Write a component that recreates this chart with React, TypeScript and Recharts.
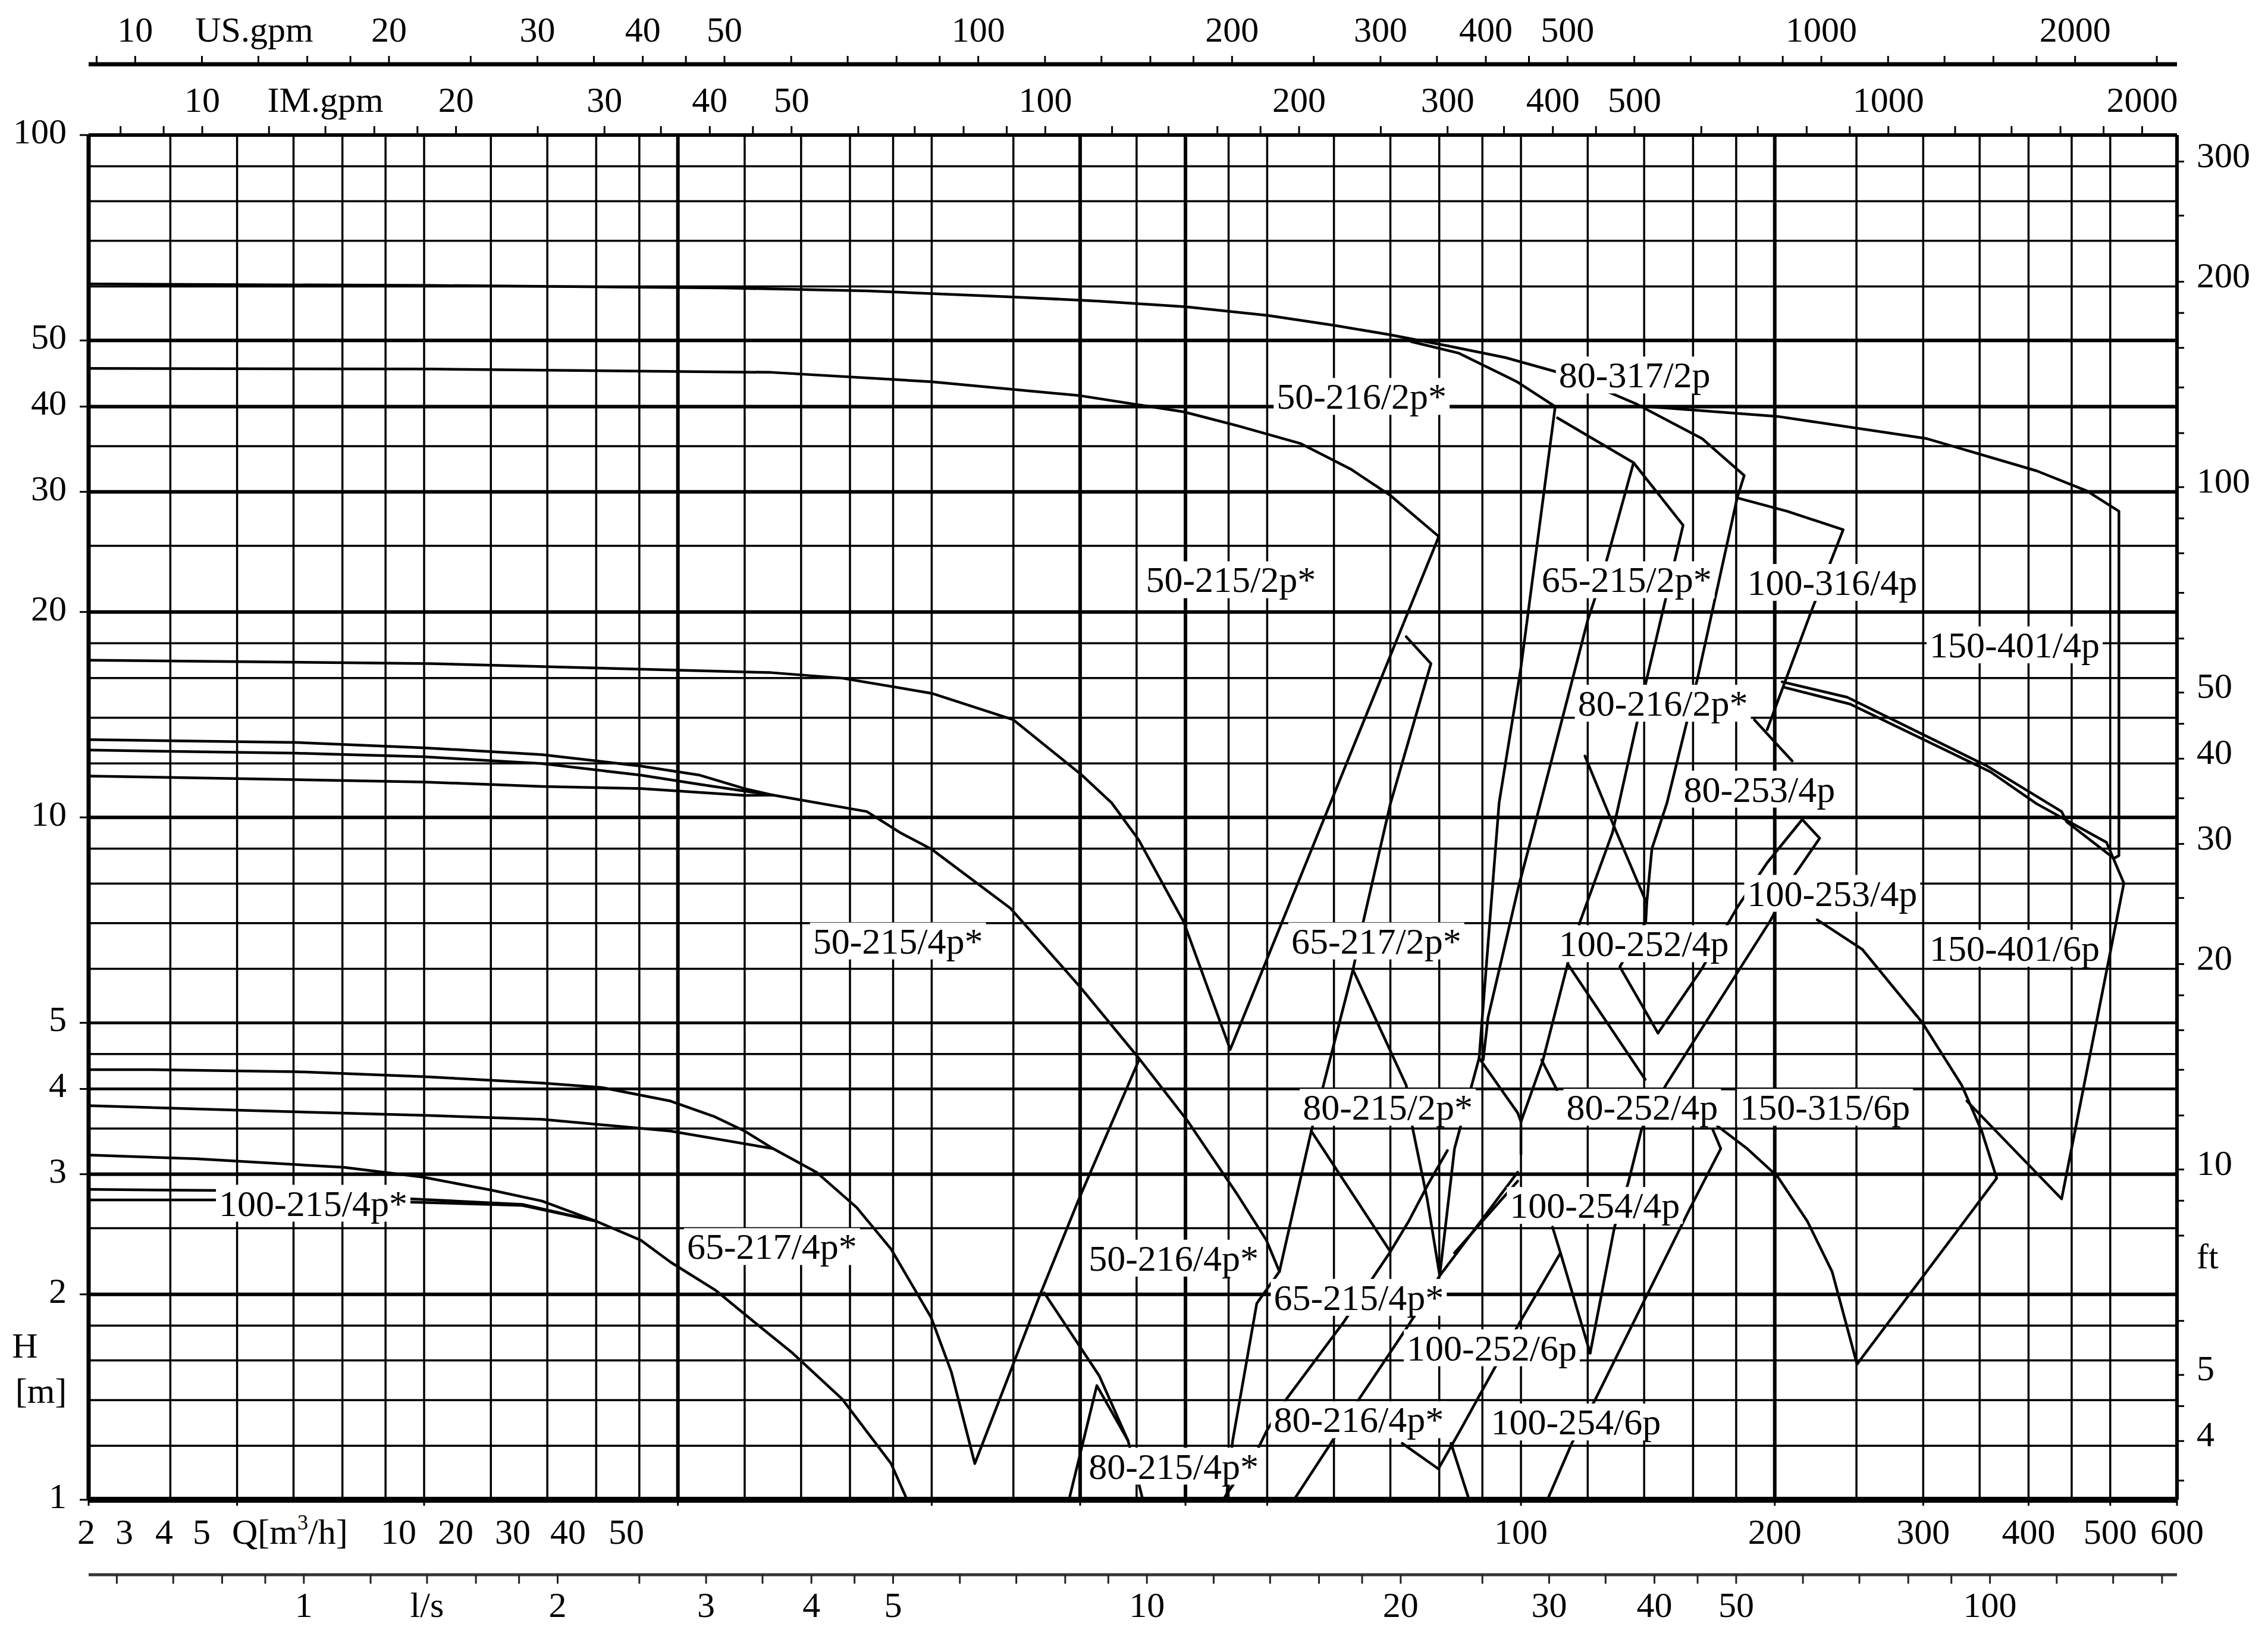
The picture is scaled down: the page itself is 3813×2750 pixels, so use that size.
import React from "react";
import { ComposedChart, Line, Scatter, XAxis, YAxis, ReferenceLine } from "recharts";

const CHART_W = 3813;
const CHART_H = 2750;
const FONT = '"Liberation Serif", "Times New Roman", Times, serif';
const AXIS_FS = 60;
const LABEL_FS = 62;

// unit factors: secondary axes are the same log scale in other units
const M3H_PER_USGPM = 0.2271247;
const M3H_PER_IMGPM = 0.2727655;
const M3H_PER_LS = 3.6;
const M_PER_FT = 0.3048;

const qDomain = [2, 600];
const hDomain = [1, 100];

// ── grid ───────────────────────────────────────────────────────────────────
const gridQ = [2.5, 3, 3.5, 4, 4.5, 5, 6, 7, 8, 9, 10, 12, 14, 16, 18, 20, 25, 30, 35, 40, 45, 50, 60, 70, 80, 90, 100, 120, 140, 160, 180, 200, 250, 300, 350, 400, 450, 500];
const gridQMajor = [10, 30, 40, 200];
const gridH = [1.2, 1.4, 1.6, 1.8, 2, 2.5, 3, 3.5, 4, 4.5, 5, 6, 7, 8, 9, 10, 12, 14, 16, 18, 20, 25, 30, 35, 40, 50, 60, 70, 80, 90];
const gridHMajor = [2, 3, 10, 20, 30, 40, 50];
const gridHMid = [4, 5];

// ── axis ticks ─────────────────────────────────────────────────────────────
const qTicks = [2, 3, 5, 10, 20, 30, 40, 50, 100, 200, 300, 400, 500, 600];
const qTickLabels = [100, 200, 300, 400, 500, 600];
// the small-flow labels are printed as one run of text from Q = 2
const qLeftTokens: [string, number][] = [
  ["2", -4], ["3", 60], ["4", 127], ["5", 190], ["10", 521], ["20", 617], ["30", 713], ["40", 806], ["50", 904],
];
const lsTicks = [0.6, 0.7, 0.8, 0.9, 1, 1.2, 1.4, 1.6, 1.8, 2, 2.5, 3, 3.5, 4, 4.5, 5, 6, 7, 8, 9, 10, 12, 14, 16, 18, 20, 25, 30, 35, 40, 45, 50, 60, 70, 80, 90, 100, 120, 140, 160];
const lsTickLabels = [1, 2, 3, 4, 5, 10, 20, 30, 40, 50, 100];
const usTicks = [9, 10, 12, 14, 16, 18, 20, 25, 30, 35, 40, 45, 50, 60, 70, 80, 90, 100, 120, 140, 160, 180, 200, 250, 300, 350, 400, 450, 500, 600, 700, 800, 900, 1000, 1200, 1400, 1600, 1800, 2000, 2500];
const imTicks = [8, 9, 10, 12, 14, 16, 18, 20, 25, 30, 35, 40, 45, 50, 60, 70, 80, 90, 100, 120, 140, 160, 180, 200, 250, 300, 350, 400, 450, 500, 600, 700, 800, 900, 1000, 1200, 1400, 1600, 1800, 2000];
const gpmTickLabels = [10, 20, 30, 40, 50, 100, 200, 300, 400, 500, 1000, 2000];
const hTicks = [1, 2, 3, 4, 5, 10, 20, 30, 40, 50, 100];
const hTitles: [number, string, number][] = [[1.681, "H", -107], [1.443, "[m]", -80]];
const ftTicks = [3.5, 4, 4.5, 5, 6, 8, 9, 10, 12, 14, 16, 18, 20, 25, 30, 35, 40, 45, 50, 60, 70, 80, 90, 100, 120, 140, 160, 180, 200, 250, 300];
const ftTickLabels = [4, 5, 10, 20, 30, 40, 50, 100, 200, 300];
const ftTitleAt = 7.47;

// ── pump curves: [Q m3/h, H m] ─────────────────────────────────────────────
const p80_317_2p = [[2, 60.5], [5.1, 60.2], [11.3, 59.7], [16.8, 59.1], [25, 57.9], [31.6, 57.1], [40.1, 56], [50.1, 54.4], [60.1, 52.6], [69.8, 51], [81.8, 49.1], [95.8, 47.2], [110, 45], [121.5, 43], [136.8, 40.4], [164, 35.9], [184, 31.7], [180.5, 29.4], [162, 16], [149, 10.5], [143, 9], [141, 7.5]];
const p50_215_2p = [[2, 45.5], [5.1, 45.4], [12.9, 44.9], [20, 43.5], [30, 41.5], [39.8, 39.3], [46.1, 37.5], [54.8, 35.3], [62.8, 32.4], [70.1, 29.6], [79.9, 25.8], [45.2, 4.57], [39.8, 7.03], [35.2, 9.27], [32.7, 10.5], [30.1, 11.55], [25, 13.9], [20, 15.2], [15.65, 16], [12.9, 16.3], [5.1, 16.8], [2, 17]];
const p50_216_2p = [[74.1, 49.8], [84.4, 47.9], [98.9, 43.5], [109.8, 40], [100, 16.6], [94.2, 10.5], [89.2, 4.44], [83.4, 3.27], [80.1, 2.13], [99.1, 3.02]];
const p65_215_2p = [[110.5, 38.5], [136, 33.1], [124.9, 22.6], [120, 19.45], [103.3, 9.5], [99.3, 7.9], [91.4, 5.09], [90.2, 4.41]];
const p80_216_2p = [[136, 33.1], [155.7, 26.8], [140.9, 15.9], [128.4, 9.5], [117.5, 7.03], [113.6, 6.1], [106.2, 4.41], [100, 3.58], [100, 3.21]];
const p80_216_2p_b = [[113.6, 6.1], [140.4, 4.13]];
const p80_216_2p_c = [[89.2, 4.44], [99.1, 3.69], [100, 3.58]];
const p80_216_2p_d = [[105.8, 4.41], [110.3, 3.99]];
const p100_316_4p = [[180.5, 29.4], [206.9, 28.1], [241.1, 26.4], [221.5, 20.2], [195.9, 13.45]];
const p80_253_4p = [[189.2, 13.9], [209.7, 12.1]];
const p150_401_4p = [[137.5, 40.1], [201.4, 38.7], [303, 35.9], [409, 32.2], [469, 30.1], [512, 28.1], [512, 8.79], [505, 8.71], [444, 9.85], [437.8, 10.2], [356.8, 11.9], [243.8, 15], [204.1, 15.8]];
const p150_401_6p = [[205.6, 15.5], [245.7, 14.66], [360.6, 11.66], [409, 10.47], [495, 9.19], [519, 8.01], [437.8, 2.76], [338, 3.84]];
const p150_315_6p = [[224.6, 7.08], [253.9, 6.41], [299, 5.01], [333.3, 4.05], [352, 3.47], [366.7, 2.96], [250.4, 1.58], [233.9, 2.16], [218.6, 2.56], [201.4, 2.98], [185.5, 3.27], [171, 3.53]];
const p100_253_4p = [[145.4, 4.83], [163.9, 6], [180.5, 7.38], [195.9, 8.58], [215.6, 9.93], [226.1, 9.32], [211.3, 8.25], [197.5, 7.05], [148.7, 4.06], [139, 3.49], [134, 2.91], [129.1, 2.51], [120.8, 1.64]];
const p100_252_4p = [[119.1, 12.3], [127.6, 10], [141, 7.48], [140.6, 7.03], [131, 6.04], [145.4, 4.83]];
const p80_252_4p = [[168.8, 3.49], [172.6, 3.27], [158.6, 2.67], [122.4, 1.4], [114.9, 1.21], [107.5, 1]];
const p65_217_2p = [[73.1, 18.4], [78.2, 16.8], [70, 10.47], [65, 7.03], [63.2, 5.98], [58.3, 4.05], [56.4, 3.47], [51.7, 2.16]];
const p65_217_2p_b = [[63.2, 5.98], [73.1, 4.05], [74.4, 3.5], [77.4, 2.76], [80.1, 2.13]];
const p65_217_2p_c = [[56.4, 3.47], [70, 2.31]];
const p80_215_2p = [[44.3, 1], [48.8, 1.19], [49.9, 1.26], [52.7, 1.405], [61.6, 1.82], [66.3, 2.09], [70, 2.31], [73.6, 2.56], [77.6, 2.9], [81.8, 3.25]];
const p80_215_2p_b = [[83.4, 2.3], [99.1, 2.93]];
const p65_215_4p = [[80.1, 2.13], [73.5, 1.8], [64.4, 1.41], [59.5, 1.21], [53.8, 1]];
const p50_216_4p = [[51.7, 2.16], [48.6, 1.94], [45.5, 1.22], [44.7, 1]];
const p100_252_6p = [[72.3, 1.21], [79.8, 1.11], [84.9, 1.27], [92.8, 1.55], [99.7, 1.82], [111.4, 2.3], [120.8, 1.64]];
const p100_252_6p_b = [[109, 2.51], [111.4, 2.3]];
const p100_254_6p = [[82.6, 1.21], [86.8, 1]];
const p50_215_4p = [[2, 12.55], [3.52, 12.42], [4.99, 12.27], [6.9, 11.99], [9.04, 11.53], [10.62, 11.18], [12, 10.93], [12.97, 10.78], [16.75, 10.2], [18.4, 9.48], [20, 8.98], [24.8, 7.36], [29.9, 5.67], [35.2, 4.44], [40.3, 3.58], [46.1, 2.8], [49.9, 2.4], [51.7, 2.16]];
const p50_215_4p_b = [[2, 13], [3.52, 12.88], [4.99, 12.65], [6.9, 12.36], [9.04, 11.89], [10.62, 11.53], [12, 11.02], [12.97, 10.78]];
const p50_215_4p_c = [[2, 11.5], [4.99, 11.27], [6.9, 11.1], [9.04, 11.02], [12, 10.77], [12.97, 10.78]];
const p65_217_4p = [[2, 4.27], [2.35, 4.27], [3.52, 4.24], [4.99, 4.17], [6.9, 4.08], [8.12, 4.02], [9.8, 3.84], [11.07, 3.64], [12, 3.47], [12.97, 3.27], [14.6, 3.02], [16.3, 2.68], [17.9, 2.33], [19.97, 1.85], [21.1, 1.54], [22.5, 1.13], [26.9, 2], [29.9, 2.76], [35.2, 4.4]];
const p65_217_4p_b = [[2, 3.78], [3.07, 3.72], [4.99, 3.66], [6.9, 3.61], [9.8, 3.47], [12.97, 3.27]];
const p100_215_4p = [[2, 3.2], [2.68, 3.16], [4.02, 3.07], [4.99, 2.97], [6.03, 2.84], [6.9, 2.74], [8, 2.56], [9.04, 2.4], [9.8, 2.23], [11.07, 2.03], [12.33, 1.82], [13.68, 1.64], [15.66, 1.405], [17.9, 1.13], [18.7, 1]];
const p100_215_4p_b = [[2, 2.85], [2.83, 2.84], [4.83, 2.76], [6.54, 2.71], [8, 2.56]];
const p100_215_4p_c = [[2, 2.75], [2.83, 2.75], [4.83, 2.73], [6.54, 2.7], [8, 2.56]];
const p80_215_4p = [[27.2, 2.01], [31.6, 1.52], [34.2, 1.22], [35.6, 1]];
const p80_215_4p_b = [[29.1, 1], [31.4, 1.47], [34.2, 1.22]];

const curves: [string, number[][]][] = [
  ["80-317/2p", p80_317_2p], ["50-215/2p", p50_215_2p], ["50-216/2p", p50_216_2p],
  ["65-215/2p", p65_215_2p], ["80-216/2p", p80_216_2p], ["80-216/2p-b", p80_216_2p_b],
  ["80-216/2p-c", p80_216_2p_c], ["80-216/2p-d", p80_216_2p_d], ["100-316/4p", p100_316_4p],
  ["80-253/4p", p80_253_4p], ["150-401/4p", p150_401_4p], ["150-401/6p", p150_401_6p],
  ["150-315/6p", p150_315_6p], ["100-253/4p", p100_253_4p], ["100-252/4p", p100_252_4p],
  ["80-252/4p", p80_252_4p], ["65-217/2p", p65_217_2p], ["65-217/2p-b", p65_217_2p_b],
  ["65-217/2p-c", p65_217_2p_c], ["80-215/2p", p80_215_2p], ["80-215/2p-b", p80_215_2p_b],
  ["65-215/4p", p65_215_4p], ["50-216/4p", p50_216_4p], ["100-252/6p", p100_252_6p],
  ["100-252/6p-b", p100_252_6p_b], ["100-254/6p", p100_254_6p], ["50-215/4p", p50_215_4p],
  ["50-215/4p-b", p50_215_4p_b], ["50-215/4p-c", p50_215_4p_c], ["65-217/4p", p65_217_4p],
  ["65-217/4p-b", p65_217_4p_b], ["100-215/4p", p100_215_4p], ["100-215/4p-b", p100_215_4p_b],
  ["100-215/4p-c", p100_215_4p_c], ["80-215/4p", p80_215_4p], ["80-215/4p-b", p80_215_4p_b],
];

// pump names: [text, Q at left edge of text, H at text middle]
const pumpLabels: [string, number, number][] = [
  ["80-317/2p", 110.9, 44.5], ["50-216/2p*", 51.3, 41.4], ["50-215/2p*", 35.9, 22.3],
  ["65-215/2p*", 105.8, 22.3], ["100-316/4p", 185.5, 22.1], ["150-401/4p", 305.3, 17.9],
  ["80-216/2p*", 116.8, 14.7], ["80-253/4p", 155.9, 11.0], ["100-253/4p", 185.5, 7.74],
  ["50-215/4p*", 14.46, 6.59], ["65-217/2p*", 53.4, 6.59], ["100-252/4p", 110.9, 6.53],
  ["150-401/6p", 305.3, 6.43], ["80-215/2p*", 55.1, 3.76], ["80-252/4p", 113.2, 3.76],
  ["150-315/6p", 181.9, 3.76], ["100-254/4p", 97.0, 2.7], ["100-215/4p*", 2.855, 2.72],
  ["65-217/4p*", 10.25, 2.35], ["50-216/4p*", 30.7, 2.26], ["65-215/4p*", 50.9, 1.98],
  ["100-252/6p", 73.2, 1.67], ["80-216/4p*", 50.9, 1.31], ["100-254/6p", 92.1, 1.3],
  ["80-215/4p*", 30.7, 1.12],
];

const toRows = (pts: number[][]) => pts.map(([q, h]) => ({ q, h }));

const CHAR_W: Record<string, number> = { "-": 0.333, "/": 0.278, "*": 0.5 };
const textWidth = (s: string) => [...s].reduce((w, c) => w + (CHAR_W[c] ?? 0.5), 0) * LABEL_FS;

const txt = { fontSize: AXIS_FS, fontFamily: FONT, fill: "#000" };

const hGridWidth = (v: number) => (gridHMajor.includes(v) ? 6 : gridHMid.includes(v) ? 4.8 : 3.5);

// ── pump name with white box ───────────────────────────────────────────────
function PumpLabel(props: any) {
  const { cx, cy } = props;
  const name = props.payload?.name ?? props.name;
  if (cx == null || cy == null || !name) return null;
  const w = textWidth(name);
  return (
    <g>
      <rect x={cx - 5} y={cy - 31} width={w + 10} height={62} fill="#fff" />
      <text x={cx} y={cy + 21} fontSize={LABEL_FS} fontFamily={FONT} fill="#000">{name}</text>
    </g>
  );
}

// ── axis ticks (tickSize/tickMargin are 0, so x/y sit on the axis line) ────
function UsTick(props: any) {
  const { x, y, payload } = props;
  const v = payload.value;
  return (
    <g>
      <line x1={x} x2={x} y1={y} y2={y - 14} stroke="#000" strokeWidth={3} />
      {gpmTickLabels.includes(v) && <text x={x} y={y - 38} textAnchor="middle" {...txt}>{v}</text>}
      {v === 14 && <text x={x - 7} y={y - 38} textAnchor="middle" {...txt}>US.gpm</text>}
    </g>
  );
}

function ImTick(props: any) {
  const { x, y, payload } = props;
  const v = payload.value;
  return (
    <g>
      <line x1={x} x2={x} y1={y} y2={y - 15} stroke="#000" strokeWidth={3} />
      {gpmTickLabels.includes(v) && <text x={x} y={y - 39} textAnchor="middle" {...txt}>{v}</text>}
      {v === 14 && <text x={x} y={y - 39} textAnchor="middle" {...txt}>IM.gpm</text>}
    </g>
  );
}

function QTick(props: any) {
  const { x, y, payload } = props;
  const v = payload.value;
  return (
    <g>
      <line x1={x} x2={x} y1={y} y2={y + 10} stroke="#000" strokeWidth={3} />
      {qTickLabels.includes(v) && <text x={x} y={y + 74} textAnchor="middle" {...txt}>{v}</text>}
      {v === 2 && (
        <g>
          {qLeftTokens.map(([t, dx]) => (
            <text key={t} x={x + dx} y={y + 74} textAnchor="middle" {...txt}>{t}</text>
          ))}
          <text x={x + 241} y={y + 74} {...txt}>
            Q[m<tspan dy={-24} fontSize={36}>3</tspan><tspan dy={24}>/h]</tspan>
          </text>
        </g>
      )}
    </g>
  );
}

function LsTick(props: any) {
  const { x, y, payload } = props;
  const v = payload.value;
  return (
    <g>
      <line x1={x} x2={x} y1={y} y2={y + 15} stroke="#222" strokeWidth={3} />
      {lsTickLabels.includes(v) && <text x={x} y={y + 71} textAnchor="middle" {...txt}>{v}</text>}
      {v === 1.4 && <text x={x} y={y + 71} textAnchor="middle" {...txt}>l/s</text>}
    </g>
  );
}

function HTick(props: any) {
  const { x, y, payload } = props;
  const v = payload.value;
  const title = hTitles.find((t) => t[0] === v);
  if (title) {
    return <text x={x + title[2]} y={y + 20} textAnchor="middle" {...txt}>{title[1]}</text>;
  }
  return (
    <g>
      <line x1={x - 15} x2={x} y1={y} y2={y} stroke="#000" strokeWidth={3} />
      <text x={x - 37} y={y + 14} textAnchor="end" {...txt}>{v}</text>
    </g>
  );
}

function FtTick(props: any) {
  const { x, y, payload } = props;
  const v = payload.value;
  if (v === ftTitleAt) {
    return <text x={x + 33} y={y + 21} {...txt}>ft</text>;
  }
  return (
    <g>
      <line x1={x} x2={x + 12} y1={y} y2={y} stroke="#000" strokeWidth={3} />
      {ftTickLabels.includes(v) && <text x={x + 33} y={y + 9} {...txt}>{v}</text>}
    </g>
  );
}

// axis ids sort in stacking order: b1 = Q (next to plot), b2 = l/s, t1 = IM.gpm, t2 = US.gpm
export default function App() {
  const labelRows = pumpLabels.map(([name, q, h]) => ({ name, q, h }));
  return (
    <div style={{ width: CHART_W, height: CHART_H, background: "#fff" }}>
      <style>{"html,body{margin:0;padding:0;background:#fff;}"}</style>
      <ComposedChart width={CHART_W} height={CHART_H} margin={{ top: 0, right: 0, bottom: 0, left: 0 }}>
        <XAxis
          xAxisId="b1" dataKey="q" type="number" scale="log" domain={qDomain} allowDataOverflow
          orientation="bottom" height={126} ticks={qTicks} interval={0} tickSize={0} tickMargin={0}
          tickLine={false} tick={QTick} axisLine={{ stroke: "#000", strokeWidth: 10 }}
        />
        <XAxis
          xAxisId="b2" dataKey="q" type="number" scale="log" domain={[qDomain[0] / M3H_PER_LS, qDomain[1] / M3H_PER_LS]}
          allowDataOverflow orientation="bottom" height={103} ticks={lsTicks} interval={0} tickSize={0}
          tickMargin={0} tickLine={false} tick={LsTick} axisLine={{ stroke: "#333", strokeWidth: 5 }}
        />
        <XAxis
          xAxisId="t1" dataKey="q" type="number" scale="log" domain={[qDomain[0] / M3H_PER_IMGPM, qDomain[1] / M3H_PER_IMGPM]}
          allowDataOverflow orientation="top" height={119} ticks={imTicks} interval={0} tickSize={0}
          tickMargin={0} tickLine={false} tick={ImTick} axisLine={{ stroke: "#000", strokeWidth: 6 }}
        />
        <XAxis
          xAxisId="t2" dataKey="q" type="number" scale="log" domain={[qDomain[0] / M3H_PER_USGPM, qDomain[1] / M3H_PER_USGPM]}
          allowDataOverflow orientation="top" height={108} ticks={usTicks} interval={0} tickSize={0}
          tickMargin={0} tickLine={false} tick={UsTick} axisLine={{ stroke: "#000", strokeWidth: 7 }}
        />
        <YAxis
          yAxisId="h" dataKey="h" type="number" scale="log" domain={hDomain} allowDataOverflow
          orientation="left" width={149} ticks={[...hTicks, ...hTitles.map((t) => t[0])]} interval={0}
          tickSize={0} tickMargin={0} tickLine={false} tick={HTick} axisLine={{ stroke: "#000", strokeWidth: 7 }}
        />
        <YAxis
          yAxisId="ft" type="number" scale="log" domain={[hDomain[0] / M_PER_FT, hDomain[1] / M_PER_FT]}
          allowDataOverflow orientation="right" width={153} ticks={[...ftTicks, ftTitleAt]} interval={0}
          tickSize={0} tickMargin={0} tickLine={false} tick={FtTick} axisLine={{ stroke: "#000", strokeWidth: 6 }}
        />

        {gridQ.map((v) => (
          <ReferenceLine key={`gx${v}`} x={v} xAxisId="b1" yAxisId="h" stroke="#000"
            strokeWidth={gridQMajor.includes(v) ? 6 : 3.5} />
        ))}
        {gridH.map((v) => (
          <ReferenceLine key={`gy${v}`} y={v} xAxisId="b1" yAxisId="h" stroke="#000"
            strokeWidth={hGridWidth(v)} />
        ))}

        {curves.map(([name, pts]) => (
          <Line
            key={name} name={name} data={toRows(pts)} dataKey="h" xAxisId="b1" yAxisId="h"
            type="linear" stroke="#000" strokeWidth={4.5} strokeLinejoin="round" strokeLinecap="round"
            dot={false} activeDot={false} isAnimationActive={false}
          />
        ))}

        <Scatter
          data={labelRows} dataKey="h" xAxisId="b1" yAxisId="h" shape={PumpLabel} isAnimationActive={false}
        />
      </ComposedChart>
    </div>
  );
}
